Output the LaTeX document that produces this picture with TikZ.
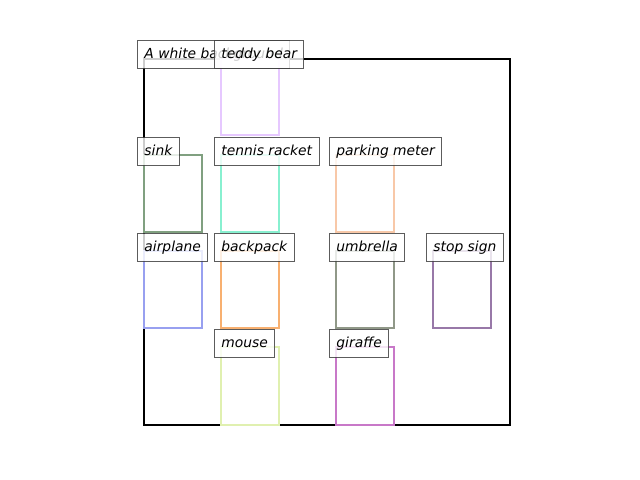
\documentclass[tikz,border=0pt]{standalone}
\usepackage{fontspec}
\setmainfont{DejaVu Sans}
\begin{document}
\begin{tikzpicture}[x=0.01in,y=-0.01in,
  frame/.style={draw=black,line width=1.5pt},
  bbox/.style={line width=1.8pt},
  lab/.style={draw=black!75,draw opacity=0.85,fill=white,fill opacity=0.8,text opacity=1,
    line width=0.75pt,anchor=north west,inner xsep=5pt,inner ysep=5.2pt,
    text height=7.6pt,text depth=2.2pt,font=\itshape\fontsize{10pt}{12pt}\selectfont}]
\definecolor{cteddy}{RGB}{230,200,255}
\definecolor{csink}{RGB}{128,160,128}
\definecolor{ctennis}{RGB}{136,240,208}
\definecolor{cpark}{RGB}{248,200,168}
\definecolor{cplane}{RGB}{152,160,240}
\definecolor{cback}{RGB}{248,176,112}
\definecolor{cumb}{RGB}{144,152,136}
\definecolor{cstop}{RGB}{152,120,168}
\definecolor{cmouse}{RGB}{224,240,176}
\definecolor{cgir}{RGB}{200,120,200}
\useasboundingbox (0,0) rectangle (640,480);
% frame
\draw[frame] (144,59) rectangle (510,425);
% boxes
\draw[bbox,cteddy]  (221,59)  rectangle (279,135);
\draw[bbox,csink]   (144,155) rectangle (202,232);
\draw[bbox,ctennis] (221,155) rectangle (279,232);
\draw[bbox,cpark]   (336,155) rectangle (394,232);
\draw[bbox,cplane]  (144,251) rectangle (202,328);
\draw[bbox,cback]   (221,251) rectangle (279,328);
\draw[bbox,cumb]    (336,251) rectangle (394,328);
\draw[bbox,cstop]   (433,251) rectangle (491,328);
\draw[bbox,cmouse]  (221,347) rectangle (279,425);
\draw[bbox,cgir]    (336,347) rectangle (394,425);
% labels
\node[lab] (bg) at (137,40) {A white background};
\node[lab] (teddy) at (214,40) {teddy bear};
\node[lab] (sink) at (137,137) {sink};
\node[lab] (tennis) at (214,137) {tennis racket};
\node[lab] (park) at (329,137) {parking meter};
\node[lab] (plane) at (137,233) {airplane};
\node[lab] (back) at (214,233) {backpack};
\node[lab] (umb) at (329,233) {umbrella};
\node[lab] (stop) at (426,233) {stop sign};
\node[lab] (mouse) at (214,329) {mouse};
\node[lab] (gir) at (329,329) {giraffe};
\end{tikzpicture}
\end{document}
